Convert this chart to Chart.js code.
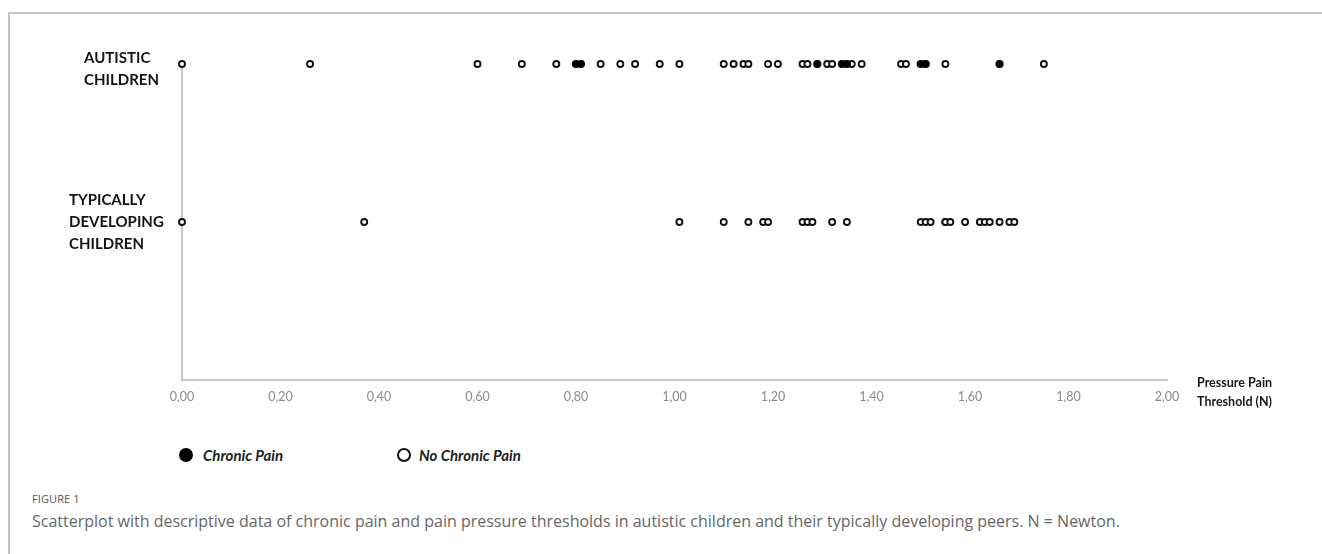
<!DOCTYPE html>
<html>
<head>
<meta charset="utf-8">
<script src="https://cdn.jsdelivr.net/npm/chart.js@4/dist/chart.umd.min.js"></script>
<style>
  html, body { margin:0; padding:0; background:#fff; }
  body { width:1322px; height:554px; position:relative; overflow:hidden; font-family:"Open Sans", sans-serif; }
  #frameTop { position:absolute; left:8px; top:12px; width:1314px; height:0; border-top:2px solid #c4c4c4; }
  #frameLeft { position:absolute; left:8px; top:12px; width:0; height:542px; border-left:2px solid #c4c4c4; }
  #wrap { position:absolute; left:0; top:0; width:1322px; height:420px; }
  .axisTitle { position:absolute; left:1197px; font-family:Lato, sans-serif; font-weight:700; font-size:12.5px; color:#1a1a1a; line-height:19px; white-space:nowrap; }
  #legend { position:absolute; left:0; top:445px; width:700px; height:20px; font-family:Lato, sans-serif; }
  .lgItem { position:absolute; top:0; height:20px; display:flex; align-items:center; white-space:nowrap; }
  .lgDot { flex:0 0 auto; width:14px; height:14px; border-radius:50%; box-sizing:border-box; }
  .lgText { margin-left:10px; font-style:italic; font-weight:700; font-size:15px; color:#222; white-space:nowrap; }
  #figLabel { position:absolute; left:32px; top:491px; font-size:11px; color:#555; letter-spacing:0.1px; }
  #caption { position:absolute; left:32px; top:510px; font-size:16px; color:#666; white-space:nowrap; }
</style>
</head>
<body>
<div id="frameTop"></div>
<div id="frameLeft"></div>
<div id="wrap"><canvas id="c" width="1322" height="420"></canvas></div>
<div class="axisTitle" style="top:373px;">Pressure Pain<br>Threshold (N)</div>
<div id="legend"></div>
<div id="figLabel">FIGURE 1</div>
<div id="caption">Scatterplot with descriptive data of chronic pain and pain pressure thresholds in autistic children and their typically developing peers. N = Newton.</div>
<script>
// ---- data (pressure pain threshold, N) ----
const groupLabels = {
  2: ["AUTISTIC", "CHILDREN"],
  1: ["TYPICALLY", "DEVELOPING", "CHILDREN"]
};
const autisticChronic = [0.80, 0.81, 1.29, 1.34, 1.35, 1.50, 1.51, 1.66];
const autisticNoChronic = [0.00, 0.26, 0.60, 0.69, 0.76, 0.85, 0.89, 0.92, 0.97, 1.01,
  1.10, 1.12, 1.14, 1.15, 1.19, 1.21, 1.26, 1.27, 1.31, 1.32, 1.36, 1.38, 1.46, 1.47, 1.55, 1.75];
const typicalChronic = [];
const typicalNoChronic = [0.00, 0.37, 1.01, 1.10, 1.15, 1.18, 1.19, 1.26, 1.27, 1.28, 1.32, 1.35,
  1.50, 1.51, 1.52, 1.55, 1.55, 1.56, 1.59, 1.62, 1.63, 1.64, 1.66, 1.68, 1.69];
const xTickValues = [0, 0.2, 0.4, 0.6, 0.8, 1.0, 1.2, 1.4, 1.6, 1.8, 2.0];
const seriesNames = ["Chronic Pain", "No Chronic Pain"];

const AUT_Y = 2, TD_Y = 1;
const toPts = (arr, y) => arr.map(v => ({x: v, y: y}));

const datasets = [
  {
    label: seriesNames[0],
    data: toPts(autisticChronic, AUT_Y).concat(toPts(typicalChronic, TD_Y)),
    backgroundColor: "#000", borderColor: "#000",
    pointRadius: 3.4, borderWidth: 1.4, clip: false
  },
  {
    label: seriesNames[1],
    data: toPts(autisticNoChronic, AUT_Y).concat(toPts(typicalNoChronic, TD_Y)),
    backgroundColor: "#fff", borderColor: "#111",
    pointRadius: 3, borderWidth: 1.9, clip: false
  }
];

// category labels of the y axis, drawn at the y scale's pixel for each group
const groupLabelPlugin = {
  id: "groupLabels",
  afterDraw(chart) {
    const ys = chart.scales.y, ctx = chart.ctx;
    const place = { 2: { left: 84, dy: 5 }, 1: { left: 69, dy: 0 } };
    ctx.save();
    ctx.font = "bold 15px Lato";
    ctx.fillStyle = "#141414";
    ctx.textAlign = "left";
    ctx.textBaseline = "middle";
    const lh = 22;
    Object.keys(groupLabels).forEach(k => {
      const lines = groupLabels[k];
      const cy = ys.getPixelForValue(Number(k)) + place[k].dy;
      const y0 = cy - (lines.length - 1) * lh / 2;
      lines.forEach((t, i) => ctx.fillText(t, place[k].left, y0 + i * lh));
    });
    ctx.restore();
  }
};

const chart = new Chart(document.getElementById("c"), {
  type: "scatter",
  data: { datasets },
  plugins: [groupLabelPlugin],
  options: {
    responsive: false,
    animation: false,
    layout: { padding: { left: 100, right: 155, top: 64, bottom: 0 } },
    plugins: { legend: { display: false }, tooltip: { enabled: false } },
    scales: {
      x: {
        type: "linear", min: 0, max: 2,
        afterBuildTicks: ax => { ax.ticks = xTickValues.map(v => ({value: v})); },
        afterFit: ax => { ax.height = 40; },
        grid: { display: false, drawTicks: false },
        border: { display: true, color: "#c8c8c8", width: 2 },
        ticks: {
          padding: 9, color: "#8a8a8a",
          font: { family: "Lato", size: 12.5 },
          callback: v => v.toFixed(2).replace(".", ",")
        }
      },
      y: {
        type: "linear", min: 0, max: 2,
        afterBuildTicks: ax => { ax.ticks = [{value: 1}, {value: 2}]; },
        afterFit: ax => { ax.width = 82; },
        grid: { display: false, drawTicks: false },
        border: { display: true, color: "#c8c8c8", width: 2 },
        ticks: { display: false }
      }
    }
  }
});

// HTML legend built from the chart's datasets
const lg = document.getElementById("legend");
const lgLeft = [179, 397];
chart.data.datasets.forEach((ds, i) => {
  const item = document.createElement("div");
  item.className = "lgItem";
  item.style.left = lgLeft[i] + "px";
  const dot = document.createElement("div");
  dot.className = "lgDot";
  dot.style.background = ds.backgroundColor;
  dot.style.border = "2px solid " + ds.borderColor;
  const t = document.createElement("span");
  t.className = "lgText";
  t.textContent = ds.label;
  if (i === 1) t.style.marginLeft = "8px";
  item.appendChild(dot); item.appendChild(t);
  lg.appendChild(item);
});
</script>
</body>
</html>
